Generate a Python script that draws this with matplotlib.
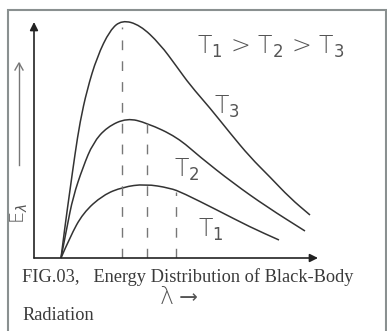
import numpy as np
import matplotlib
matplotlib.use('Agg')
import matplotlib.pyplot as plt
from matplotlib.patches import Rectangle, PathPatch
from matplotlib.path import Path

# curves (lambda, E) in arbitrary units
lam_t3 = [27, 31, 36, 41, 46, 53, 63, 76, 88, 106, 126, 143, 156, 176, 196, 216, 236, 256, 276]
e_t3 = [0, 32, 68, 104, 136, 168, 201, 228, 238, 233, 214, 191, 173, 150, 125, 101, 81, 60, 43]

lam_t2 = [27, 33, 39, 49, 59, 73, 93, 113, 143, 166, 199, 233, 271]
e_t2 = [0, 31, 61, 91, 115, 131, 140, 135, 121, 101, 75, 51, 27]

lam_t1 = [27, 36, 49, 69, 89, 111, 136, 149, 183, 216, 245]
e_t1 = [0, 21, 45, 63, 71, 74, 70, 65, 48, 31, 18]

# dashed lines under the peaks
peak_lam = [88, 113, 142]
peak_top = [231, 135, 66]

curve_labels = ['T$_3$', 'T$_2$', 'T$_1$']
label_pos = [(180, 151), (140, 88), (164, 28)]


def smooth(xs, ys):
    # quadratic bezier through the read points (points act as control points)
    pts = list(zip(xs, ys))
    verts = [pts[0]]
    codes = [Path.MOVETO]
    for i in range(1, len(pts) - 1):
        mid = ((pts[i][0] + pts[i + 1][0]) / 2, (pts[i][1] + pts[i + 1][1]) / 2)
        verts += [pts[i], mid]
        codes += [Path.CURVE3, Path.CURVE3]
    verts.append(pts[-1])
    codes.append(Path.LINETO)
    return Path(verts, codes)


W, H = 387, 331
fig = plt.figure(figsize=(W / 100, H / 100), dpi=100)
fig.patch.set_facecolor('white')

ax = fig.add_axes([34 / W, (H - 258) / H, (318 - 34) / W, (258 - 18) / H])
ax.set_xlim(0, 284)
ax.set_ylim(0, 240)
ax.axis('off')

line_c = '#333333'
for lx, ly in [(lam_t3, e_t3), (lam_t2, e_t2), (lam_t1, e_t1)]:
    ax.add_patch(PathPatch(smooth(lx, ly), fill=False, edgecolor=line_c,
                           lw=1.1, clip_on=False))

for x, top in zip(peak_lam, peak_top):
    ax.plot([x, x], [0, top], color='#777777', lw=1.0, dashes=(7, 8))

# axes with arrow heads
ax.annotate('', xy=(284, 0), xytext=(0, 0),
            arrowprops=dict(arrowstyle='-|>', color='#222222', lw=1.2,
                            mutation_scale=12, shrinkA=0, shrinkB=0),
            annotation_clip=False)
ax.annotate('', xy=(0, 236), xytext=(0, 0),
            arrowprops=dict(arrowstyle='-|>', color='#222222', lw=1.2,
                            mutation_scale=12, shrinkA=0, shrinkB=0),
            annotation_clip=False)

hand = dict(color='#555555', fontweight='light')
hand_fam = ['DejaVu Sans', 'DejaVu Sans Mono', 'Noto Sans CJK SC', 'DejaVu Serif']
for t, (x, y) in zip(curve_labels, label_pos):
    ax.text(x, y, t, fontsize=17, ha='left', va='center', family=hand_fam, **hand)
ax.text(163, 211, r'T$_1$ > T$_2$ > T$_3$', fontsize=17, ha='left', va='center',
        family=hand_fam, **hand)

# y label and arrow
fig.text(19 / W, 1 - 213 / H, r'E$_\lambda$', rotation=90, fontsize=14,
         ha='center', va='center', family=hand_fam, **hand)
fig.add_artist(plt.Line2D([19 / W, 19 / W], [1 - 165 / H, 1 - 63 / H],
                          color='#777777', lw=1.0, transform=fig.transFigure))
fig.add_artist(plt.Line2D([15 / W, 19 / W, 23 / W],
                          [1 - 70 / H, 1 - 63 / H, 1 - 70 / H],
                          color='#777777', lw=1.0, transform=fig.transFigure))

serif = dict(family='Liberation Serif', color='#3a3a3a')
fig.text(22 / W, 1 - 277 / H, 'FIG.03,   Energy Distribution of Black-Body',
         fontsize=13.2, ha='left', va='center', **serif)
fig.text(22 / W, 1 - 315 / H, 'Radiation', fontsize=13.2, ha='left', va='center', **serif)
fig.text(178 / W, 1 - 297 / H, 'λ ⟶', fontsize=17, ha='center', va='center',
         family=hand_fam, **hand)

# page frame
fig.add_artist(Rectangle((8 / W, -0.05), (386 - 8) / W, 1.05 - 10 / H,
                         transform=fig.transFigure, fill=False,
                         edgecolor='#8a9090', lw=1.5))

fig.savefig('out.png', dpi=100)
